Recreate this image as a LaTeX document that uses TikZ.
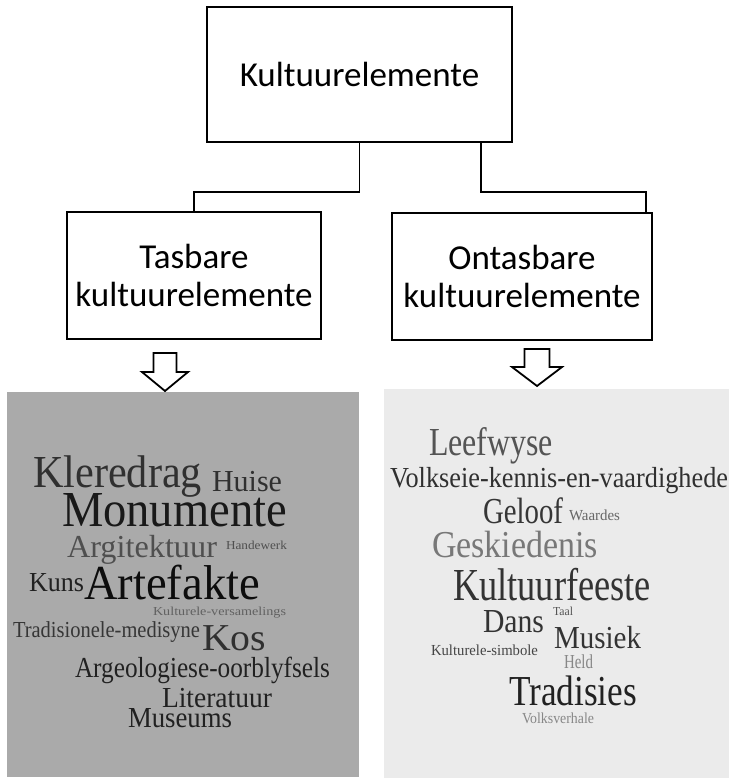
\documentclass[tikz,border=0pt]{standalone}
\usepackage{fontspec}
\usepackage{graphicx}
\setmainfont{Carlito}
\newfontfamily\wcfont{Liberation Serif}
\newcommand\wcword[3]{\resizebox{#1pt}{\height}{\fontsize{#2}{#2}\selectfont\wcfont #3}}
\definecolor{cloudL}{HTML}{AAAAAA}
\definecolor{cloudR}{HTML}{EBEBEB}
\begin{document}
\begin{tikzpicture}[x=1pt,y=-1pt,
  box/.style={draw=black, line width=1.8pt, fill=white, inner sep=0pt, align=center,
    font=\fontsize{35}{38}\selectfont},
  link/.style={draw=black, line width=1.8pt},
  hollow/.style={draw=black, line width=1.8pt, fill=white, line join=miter},
  word/.style={anchor=base west, inner sep=0pt, outer sep=0pt}]
\useasboundingbox (0,0) rectangle (729,778);
\fill[white] (0,0) rectangle (729,778);
% boxes
\node[box, minimum width=305pt, minimum height=135pt] (top) at (359.5,74.5) {Kultuurelemente};
\node[box, minimum width=254pt, minimum height=127pt] (tas) at (194,275.5) {Tasbare\\kultuurelemente};
\node[box, minimum width=260pt, minimum height=127pt] (ont) at (522,276.5) {Ontasbare\\kultuurelemente};
% connectors
\draw[link] (top.south) -- ++(0,49) -| (tas.north);
\draw[link] ([xshift=-32pt]top.south east) -- ++(0,49) -| ([xshift=-7pt]ont.north east);
% cloud backgrounds
\fill[cloudL] (7,392) rectangle (359,777);
\fill[cloudR] (384,389) rectangle (729,778);
% hollow arrows
\coordinate (aL) at (165,353);
\coordinate (aR) at (537,349);
\draw[hollow] (aL) ++(-11.5,0) -- ++(23,0) -- ++(0,19) -- ++(11.5,0) -- (165,391) -- (142,372) -- (153.5,372) -- cycle;
\draw[hollow] (aR) ++(-12.5,0) -- ++(25,0) -- ++(0,18) -- ++(12.5,0) -- (537,386) -- (512,367) -- (524.5,367) -- cycle;
% left cloud
\node[word, text=black!81] (w1) at (33,487) {\wcword{169}{45.8}{Kleredrag}};
\node[word, text=black!81] (w2) at (212,491) {\wcword{70}{30.5}{Huise}};
\node[word, text=black!90] (w3) at (62,526) {\wcword{225}{50.4}{Monumente}};
\node[word, text=black!69] (w4) at (67,557) {\wcword{150}{32}{Argitektuur}};
\node[word, text=black!69] (w5) at (226,549) {\wcword{61}{12.2}{Handewerk}};
\node[word, text=black!87] (w6) at (29,591) {\wcword{55}{27.5}{Kuns}};
\node[word, text=black!95] (w7) at (84,599) {\wcword{176}{48.9}{Artefakte}};
\node[word, text=black!62] (w8) at (153,615) {\wcword{133}{12.2}{Kulturele-versamelings}};
\node[word, text=black!79] (w9) at (13,637) {\wcword{187}{22.9}{Tradisionele-medisyne}};
\node[word, text=black!81] (w10) at (202,650) {\wcword{64}{38}{Kos}};
\node[word, text=black!87] (w11) at (75,677) {\wcword{255}{29}{Argeologiese-oorblyfsels}};
\node[word, text=black!87] (w12) at (162,707) {\wcword{110}{29}{Literatuur}};
\node[word, text=black!87] (w13) at (128,727) {\wcword{104}{29}{Museums}};
% right cloud
\node[word, text=black!67] (r1) at (429,455) {\wcword{124}{39.7}{Leefwyse}};
\node[word, text=black!81] (r2) at (390,487) {\wcword{338}{29}{Volkseie-kennis-en-vaardighede}};
\node[word, text=black!79] (r3) at (483,523) {\wcword{80}{36.6}{Geloof}};
\node[word, text=black!60] (r4) at (569,520) {\wcword{51}{15.3}{Waardes}};
\node[word, text=black!53] (r5) at (432,557) {\wcword{166}{38}{Geskiedenis}};
\node[word, text=black!80] (r6) at (453,600) {\wcword{198}{45.8}{Kultuurfeeste}};
\node[word, text=black!80] (r7) at (483,632) {\wcword{61}{33.6}{Dans}};
\node[word, text=black!67] (r8) at (553,615) {\wcword{20}{12.2}{Taal}};
\node[word, text=black!80] (r9) at (554,648) {\wcword{87}{32}{Musiek}};
\node[word, text=black!73] (r10) at (431,655) {\wcword{107}{15.3}{Kulturele-simbole}};
\node[word, text=black!47] (r11) at (564,668) {\wcword{29}{19.8}{Held}};
\node[word, text=black!87] (r12) at (509,705) {\wcword{128}{42.7}{Tradisies}};
\node[word, text=black!47] (r13) at (522,723) {\wcword{72}{15.3}{Volksverhale}};
\end{tikzpicture}
\end{document}
